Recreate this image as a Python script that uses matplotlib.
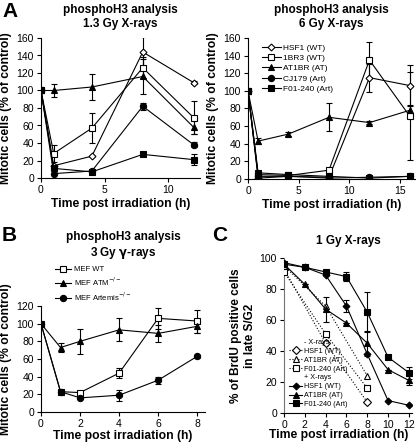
import numpy as np
import matplotlib.pyplot as plt
from matplotlib.lines import Line2D

plt.rcParams['font.family'] = ['Liberation Sans', 'DejaVu Sans']
plt.rcParams['axes.linewidth'] = 0.8

# ---- panel A, 1.3 Gy ----
tA1 = [0, 1, 4, 8, 12]
a1_hsf1 = [100, 14, 25, 144, 109]
a1_hsf1_err = [0, 0, 0, 17, 2]
a1_1br3 = [100, 28, 57, 126, 69]
a1_1br3_err = [0, 10, 17, 12, 19]
a1_at1br = [100, 100, 104, 116, 58]
a1_at1br_err = [0, 7, 15, 20, 8]
a1_cj179 = [100, 5, 8, 82, 38]
a1_cj179_err = [0, 0, 0, 4, 3]
a1_f01 = [100, 11, 7, 27, 21]
a1_f01_err = [0, 0, 0, 2, 6]

# ---- panel A, 6 Gy ----
tA2 = [0, 1, 4, 8, 12, 16]
a2_hsf1 = [100, 1, 3, 2, 115, 106]
a2_hsf1_err = [0, 0, 0, 0, 16, 23]
a2_1br3 = [100, 5, 4, 10, 135, 71]
a2_1br3_err = [0, 0, 0, 0, 20, 50]
a2_at1br = [100, 43, 51, 70, 64, 78]
a2_at1br_err = [0, 3, 2, 16, 2, 6]
a2_cj179 = [100, 3, 3, 1, 2, 3]
a2_f01 = [100, 7, 5, 3, 1, 3]

# ---- panel B ----
tB = [0, 1, 2, 4, 6, 8]
b_wt = [100, 23, 22, 44, 106, 103]
b_wt_err = [0, 0, 0, 6, 12, 13]
b_atm = [100, 73, 80, 93, 89, 97]
b_atm_err = [0, 5, 14, 13, 10, 8]
b_art = [100, 23, 16, 19, 36, 63]
b_art_err = [0, 0, 0, 6, 4, 2]

# ---- panel C ----
tC_minus = [0, 4, 8]
c_hsf1_m = [93, 45, 7]
c_at1br_m = [95, 69, 24]
c_f01_m = [91, 51, 16]
tC = [0, 2, 4, 6, 8, 10, 12]
c_hsf1 = [97, 94, 89, 69, 38, 8, 5]
c_hsf1_err = [0, 0, 0, 4, 0, 0, 0]
c_at1br = [96, 83, 67, 58, 45, 28, 21]
c_at1br_err = [0, 0, 8, 0, 8, 0, 3]
c_f01 = [96, 94, 91, 88, 65, 36, 26]
c_f01_err = [0, 0, 0, 3, 13, 0, 4]

W, H = 416, 444
fig = plt.figure(figsize=(W / 100, H / 100), dpi=100)


def px_axes(x0, x1, ytop, ybot):
    return fig.add_axes([x0 / W, 1 - ybot / H, (x1 - x0) / W, (ybot - ytop) / H])


def style(ax):
    for s in ['top', 'right']:
        ax.spines[s].set_visible(False)
    ax.tick_params(labelsize=7.5, length=3, width=0.8, direction='out', pad=2)


def series(ax, t, y, err, marker, fill, ms, label, ls='-'):
    mfc = 'white' if fill == 'open' else 'black'
    if err is not None:
        e = np.array(err, dtype=float)
        ax.errorbar(t, y, yerr=e, fmt='none', ecolor='black', elinewidth=0.8,
                    capsize=2.5, capthick=0.8, zorder=2)
    ax.plot(t, y, ls, color='black', lw=0.8, marker=marker, ms=ms,
            mfc=mfc, mec='black', mew=0.8, label=label, zorder=3)


lab = dict(fontsize=8.7, fontweight='bold')

# Panel A left
ax1 = px_axes(41, 200, 38, 178)
style(ax1)
series(ax1, tA1, a1_hsf1, a1_hsf1_err, 'D', 'open', 3.5, 'HSF1 (WT)')
series(ax1, tA1, a1_1br3, a1_1br3_err, 's', 'open', 5, '1BR3 (WT)')
series(ax1, tA1, a1_at1br, a1_at1br_err, '^', 'fill', 5, 'AT1BR (AT)')
series(ax1, tA1, a1_cj179, a1_cj179_err, 'o', 'fill', 4.5, 'CJ179 (Art)')
series(ax1, tA1, a1_f01, a1_f01_err, 's', 'fill', 5, 'F01-240 (Art)')
ax1.set_xlim(0, 12.5)
ax1.set_ylim(0, 160)
ax1.set_xticks([0, 5, 10])
ax1.set_yticks(range(0, 161, 20))
ax1.set_xlabel('Time post irradiation (h)', labelpad=2, **lab)
ax1.set_ylabel('Mitotic cells (% of control)', labelpad=3, **lab)
ax1.set_title('phosphoH3 analysis\n1.3 Gy X-rays', fontsize=8.5, fontweight='bold', pad=8)

# Panel A right
ax2 = px_axes(248, 415, 38, 179)
style(ax2)
series(ax2, tA2, a2_hsf1, a2_hsf1_err, 'D', 'open', 3.5, 'HSF1 (WT)')
series(ax2, tA2, a2_1br3, a2_1br3_err, 's', 'open', 5, '1BR3 (WT)')
series(ax2, tA2, a2_at1br, a2_at1br_err, '^', 'fill', 5, 'AT1BR (AT)')
series(ax2, tA2, a2_cj179, None, 'o', 'fill', 4.5, 'CJ179 (Art)')
series(ax2, tA2, a2_f01, None, 's', 'fill', 5, 'F01-240 (Art)')
ax2.set_xlim(0, 16.5)
ax2.set_ylim(0, 160)
ax2.set_xticks([0, 5, 10, 15])
ax2.set_yticks(range(0, 161, 20))
ax2.set_xlabel('Time post irradiation (h)', labelpad=2, **lab)
ax2.set_ylabel('Mitotic cells (% of control)', labelpad=3, **lab)
ax2.set_title('phosphoH3 analysis\n6 Gy X-rays', fontsize=8.5, fontweight='bold', pad=8)
ax2.legend(loc='upper left', bbox_to_anchor=(0.05, 1.0), fontsize=6, frameon=False,
           handlelength=2.2, labelspacing=0.3, borderpad=0.2, handletextpad=0.3)

# Panel B
ax3 = px_axes(41, 205, 306, 412)
style(ax3)
series(ax3, tB, b_wt, b_wt_err, 's', 'open', 5, 'MEF WT')
series(ax3, tB, b_atm, b_atm_err, '^', 'fill', 5, 'MEF ATM$^{-/-}$')
series(ax3, tB, b_art, b_art_err, 'o', 'fill', 4.5, 'MEF Artemis$^{-/-}$')
ax3.set_xlim(0, 8.4)
ax3.set_ylim(0, 120)
ax3.set_xticks([0, 2, 4, 6, 8])
ax3.set_yticks(range(0, 121, 20))
ax3.set_xlabel('Time post irradiation (h)', labelpad=1, **lab)
ax3.set_ylabel('Mitotic cells (% of control)', labelpad=3, **lab)
ax3.set_title('phosphoH3 analysis\n3 Gy $\\mathbf{\\gamma}$-rays', fontsize=8.5,
              fontweight='bold', pad=36)
ax3.legend(loc='lower left', bbox_to_anchor=(0.05, 0.98), fontsize=5.5, frameon=False,
           handlelength=2.2, labelspacing=0.3, borderpad=0.2, handletextpad=0.3)

# Panel C
ax4 = px_axes(284, 412, 258, 413)
style(ax4)
ax4.spines['left'].set_color('0.45')
series(ax4, tC_minus, c_hsf1_m, None, 'D', 'open', 4, 'HSF1 (WT)', ls=':')
series(ax4, tC_minus, c_at1br_m, None, '^', 'open', 5, 'AT1BR (AT)', ls=':')
series(ax4, tC_minus, c_f01_m, None, 's', 'open', 5, 'F01-240 (Art)', ls=':')
series(ax4, tC, c_hsf1, c_hsf1_err, 'D', 'fill', 3.5, 'HSF1 (WT)')
series(ax4, tC, c_at1br, c_at1br_err, '^', 'fill', 5, 'AT1BR (AT)')
series(ax4, tC, c_f01, c_f01_err, 's', 'fill', 5, 'F01-240 (Art)')
ax4.set_xlim(0, 12.3)
ax4.set_ylim(0, 100)
ax4.set_xticks(range(0, 13, 2))
ax4.set_yticks(range(0, 101, 20))
ax4.set_xlabel('Time post irradiation (h)', **lab)
ax4.xaxis.set_label_coords(0.43, -0.105)
ax4.set_ylabel('% of BrdU positive cells\nin late S/G2', labelpad=3, fontsize=8.5,
               fontweight='bold')
ax4.set_title('1 Gy X-rays', fontsize=8.5, fontweight='bold', pad=10)
h, l = ax4.get_legend_handles_labels()
blank = Line2D([], [], color='none')
handles = [blank] + h[:3] + [blank] + h[3:]
labels = ['- X-rays'] + l[:3] + ['+ X-rays'] + l[3:]
ax4.legend(handles, labels, loc='lower left', bbox_to_anchor=(0.0, 0.0), fontsize=5.2,
           frameon=False, handlelength=1.8, labelspacing=0.25, borderpad=0.2,
           handletextpad=0.3)

# panel letters
fig.text(2 / W, 1 - 2 / H, 'A', fontsize=15, fontweight='bold', va='top')
fig.text(2 / W, 1 - 226 / H, 'B', fontsize=15, fontweight='bold', va='top')
fig.text(212 / W, 1 - 226 / H, 'C', fontsize=15, fontweight='bold', va='top')

fig.savefig('out.png', dpi=100)
